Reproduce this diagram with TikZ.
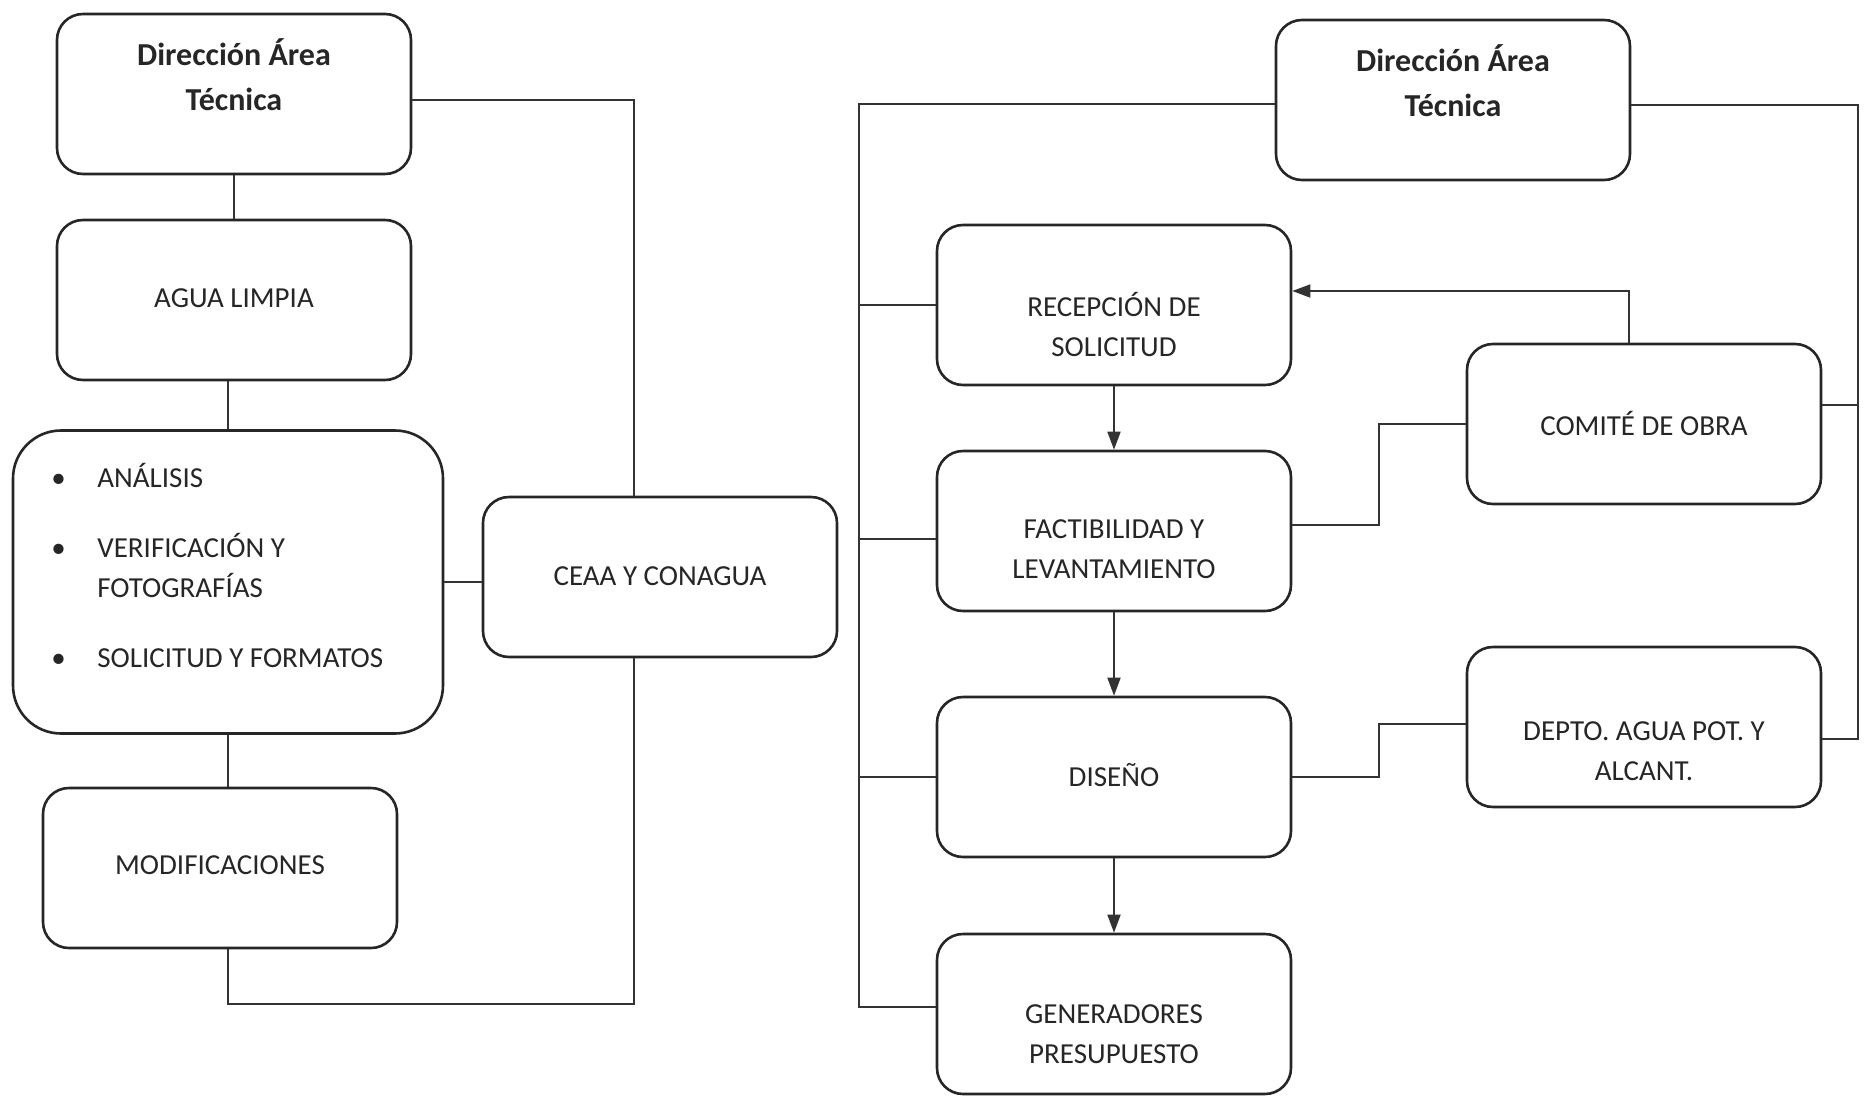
\documentclass[tikz,border=0pt]{standalone}
\usepackage{fontspec}
\setmainfont{Carlito}
\usepackage{tikz}
\usetikzlibrary{arrows.meta}
\newcommand{\rotulo}{\fontsize{14.5}{20}\selectfont}
\newcommand{\titulo}{\fontsize{16}{22.5}\selectfont\bfseries}
\newcommand{\vineta}{\makebox[23pt][l]{\textbullet}}

\begin{document}
\begin{tikzpicture}[x=0.5pt,y=-0.5pt,
  caja/.style={draw=black!85,line width=1.3pt,rounded corners=13pt,minimum width=177pt,minimum height=80pt,inner sep=0pt},
  texto/.style={text=black!85,align=center,font=\rotulo,inner sep=0pt},
  linea/.style={draw=black!80,line width=0.9pt},
  flecha/.style={linea,-{Triangle[length=9pt,width=6.5pt]}}]
\useasboundingbox (0,0) rectangle (1869,1103);

\node[caja] (dir1) at (234,94) {};
\node[caja] (agua) at (234,300) {};
\node[caja,minimum width=215pt,minimum height=151.5pt,rounded corners=24pt] (lista) at (228,582) {};
\node[caja] (modif) at (220,868) {};
\node[caja] (ceaa) at (660,577) {};

\node[texto,font=\titulo] (dir1-t) at (234,75) {Dirección Área\\Técnica};
\node[texto] (agua-t) at (234,298) {AGUA LIMPIA};
\node[texto,align=left,anchor=west] (lista-t) at (51,565) {\vineta ANÁLISIS\\[15pt]
\vineta VERIFICACIÓN Y\\
\hspace*{23pt}FOTOGRAFÍAS\\[15pt]
\vineta SOLICITUD Y FORMATOS};
\node[texto] (modif-t) at (220,865) {MODIFICACIONES};
\node[texto] (ceaa-t) at (660,576) {CEAA Y CONAGUA};

\coordinate (ejeL) at (634,1004);
\draw[linea] ([yshift=-3pt]dir1.east) -| (ejeL |- ceaa.north);
\draw[linea] (dir1.south) -- (agua.north);
\draw[linea] (lista.north) -- (lista.north |- agua.south);
\draw[linea] (lista.south) -- (lista.south |- modif.north);
\draw[linea] (lista.east) -- (lista.east -| ceaa.west);
\draw[linea] (lista.south |- modif.south) |- (ejeL) -- (ejeL |- ceaa.south);

\node[caja] (dir2) at (1453,100) {};
\node[caja] (recep) at (1114,305) {};
\node[caja] (fact) at (1114,531) {};
\node[caja] (diseno) at (1114,777) {};
\node[caja] (gen) at (1114,1014) {};
\node[caja] (comite) at (1644,424) {};
\node[caja] (depto) at (1644,727) {};

\node[texto,font=\titulo] (dir2-t) at (1453,81) {Dirección Área\\Técnica};
\node[texto] (recep-t) at (1114,324) {RECEPCIÓN DE\\SOLICITUD};
\node[texto] (fact-t) at (1114,549) {FACTIBILIDAD Y\\LEVANTAMIENTO};
\node[texto] (diseno-t) at (1114,775) {DISEÑO};
\node[texto] (gen-t) at (1114,1034) {GENERADORES\\PRESUPUESTO};
\node[texto] (comite-t) at (1644,423) {COMITÉ DE OBRA};
\node[texto] (depto-t) at (1644,751) {DEPTO. AGUA POT. Y\\ALCANT.};

\coordinate (ejeI) at (859,1007);
\coordinate (ejeD) at (1858,739);
\coordinate (codo) at (1379,0);
\draw[linea] ([yshift=-2pt]dir2.west) -| (ejeI) -- (ejeI -| gen.west);
\draw[linea] (recep.west) -- (recep.west -| ejeI);
\draw[linea] ([yshift=-4pt]fact.west) -- ([yshift=-4pt]fact.west -| ejeI);
\draw[linea] (diseno.west) -- (diseno.west -| ejeI);
\draw[linea] ([yshift=-2.5pt]dir2.east) -| (ejeD) -- (ejeD -| depto.east);
\draw[linea] ([yshift=9.5pt]comite.east) -- ([yshift=9.5pt]comite.east -| ejeD);
\draw[flecha] (recep.south) -- (fact.north);
\draw[flecha] (fact.south) -- (diseno.north);
\draw[flecha] (diseno.south) -- (gen.north);
\draw[flecha] ([xshift=-7.5pt]comite.north) |- ([yshift=7pt]recep.east);
\draw[linea] ([yshift=3pt]fact.east) -- ([yshift=3pt]fact.east -| codo) |- (comite.west);
\draw[linea] (diseno.east) -- (diseno.east -| codo) |- ([yshift=1.5pt]depto.west);
\end{tikzpicture}
\end{document}
